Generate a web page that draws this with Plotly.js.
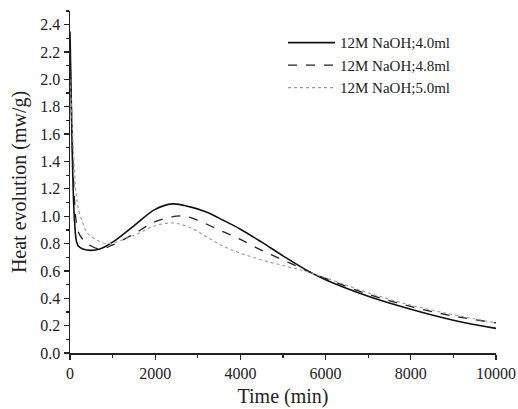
<!DOCTYPE html>
<html><head><meta charset="utf-8">
<script src="https://cdn.plot.ly/plotly-3.0.1.min.js"></script>
<style>html,body{margin:0;padding:0;background:#fff}#chart{width:518px;height:409px}</style>
</head><body><div id="chart"></div>
<script>
const seriesNames = ["12M NaOH;4.0ml", "12M NaOH;4.8ml", "12M NaOH;5.0ml"];
const timeA = [0, 50, 100, 150, 200, 300, 500, 700, 1000, 1500, 2000, 2400, 2800, 3200, 3600, 4000, 4500, 5000, 5500, 6000, 7000, 8000, 9000, 10000];
const heatA = [2.35, 1.5, 1.0, 0.82, 0.78, 0.76, 0.75, 0.76, 0.81, 0.93, 1.05, 1.09, 1.07, 1.03, 0.97, 0.905, 0.81, 0.71, 0.615, 0.535, 0.415, 0.32, 0.24, 0.18];
const timeB = [0, 50, 100, 150, 200, 300, 400, 700, 1000, 1500, 2000, 2500, 2700, 3000, 3500, 4000, 4500, 5000, 5500, 6000, 7000, 8000, 9000, 10000];
const heatB = [2.2, 1.6, 1.15, 0.95, 0.88, 0.83, 0.80, 0.76, 0.79, 0.87, 0.96, 1.0, 1.0, 0.97, 0.90, 0.83, 0.75, 0.68, 0.61, 0.545, 0.43, 0.34, 0.27, 0.22];
const timeC = [0, 50, 100, 150, 200, 300, 400, 600, 900, 1500, 2000, 2400, 2800, 3200, 3600, 4000, 4500, 5000, 5500, 6000, 7000, 8000, 9000, 10000];
const heatC = [2.0, 1.7, 1.35, 1.15, 1.05, 0.95, 0.88, 0.83, 0.80, 0.86, 0.93, 0.95, 0.92, 0.85, 0.78, 0.73, 0.68, 0.64, 0.60, 0.55, 0.44, 0.35, 0.28, 0.22];

const serif = "Liberation Serif, Times New Roman, serif";
const tickFont = {family: serif, size: 16, color: "#222"};
const titleFont = {family: serif, size: 20, color: "#222"};
const legendFont = {family: serif, size: 15, color: "#222"};
const traces = [
  {x: timeA, y: heatA, name: seriesNames[0], mode: "lines", line: {color: "#111", width: 1.6, dash: "solid", shape: "spline"}},
  {x: timeB, y: heatB, name: seriesNames[1], mode: "lines", line: {color: "#222", width: 1.3, dash: "dash", shape: "spline"}},
  {x: timeC, y: heatC, name: seriesNames[2], mode: "lines", line: {color: "#999", width: 1.1, dash: "dot", shape: "spline"}}
];
const axisCommon = {
  showgrid: false, zeroline: false, showline: true, linecolor: "#222", linewidth: 1.5,
  ticks: "outside", ticklen: 5, tickwidth: 1.3, tickcolor: "#222", tickfont: tickFont
};
const layout = {
  width: 518, height: 409,
  margin: {l: 70, r: 22, t: 11, b: 56},
  paper_bgcolor: "#fff", plot_bgcolor: "#fff",
  font: tickFont,
  showlegend: true,
  legend: {x: 0.5, y: 0.955, xanchor: "left", yanchor: "top", bgcolor: "rgba(0,0,0,0)", font: legendFont, tracegroupgap: 0, itemwidth: 47},
  xaxis: Object.assign({}, axisCommon, {
    range: [0, 10000], tickvals: [0, 2000, 4000, 6000, 8000, 10000], ticktext: ["0", "2000", "4000", "6000", "8000", "10000"],
    minor: {dtick: 1000, ticks: "outside", ticklen: 3, tickcolor: "#222"},
    title: {text: "Time (min)", font: titleFont, standoff: 8}
  }),
  yaxis: Object.assign({}, axisCommon, {
    range: [0, 2.5], tickvals: [0, 0.2, 0.4, 0.6, 0.8, 1.0, 1.2, 1.4, 1.6, 1.8, 2.0, 2.2, 2.4],
    ticktext: ["0.0", "0.2", "0.4", "0.6", "0.8", "1.0", "1.2", "1.4", "1.6", "1.8", "2.0", "2.2", "2.4"],
    minor: {dtick: 0.1, ticks: "outside", ticklen: 3, tickcolor: "#222"},
    title: {text: "Heat evolution (mw/g)", font: titleFont, standoff: 8}
  })
};
Plotly.newPlot("chart", traces, layout, {displayModeBar: false, staticPlot: true});
</script></body></html>
